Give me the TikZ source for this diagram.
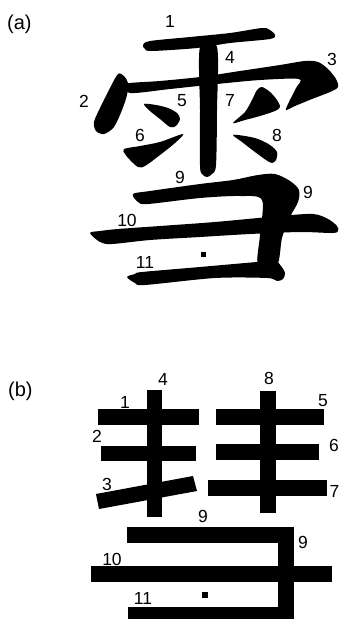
\documentclass[tikz,border=0pt]{standalone}
\usepackage{fontspec}
\setmainfont{Liberation Sans}

\begin{document}
\begin{tikzpicture}[x=1pt, y=-1pt,
    num/.style={font=\fontsize{17.5}{20}\selectfont, inner sep=0pt},
    tag/.style={font=\fontsize{20}{24}\selectfont, inner sep=0pt, anchor=base west},
    inkstroke/.style={smooth cycle, tension=0.5}]
    \useasboundingbox (0,0) rectangle (340,619);
    \clip (0,0) rectangle (340,619);

    % (a) brush-written character
    \node[tag] (taga) at (7,29) {(a)};

    % stroke 1, top horizontal
    \fill plot[inkstroke] coordinates {(143,45) (150,41) (190,37) (230,33) (262,28) (270,30)
        (275,35) (270,39) (230,43) (197,48) (152,51) (145,49)};
    % stroke 4, central vertical
    \fill plot[inkstroke] coordinates {(200,47) (217,47) (217,110) (216,165) (212,174) (207,177)
        (202,174) (200,165) (200,110)};
    % stroke 2, left hook
    \fill plot[inkstroke] coordinates {(118,74) (124,76) (128,83) (127,95) (122,110) (114,127)
        (104,134) (96,131) (94,122) (100,108) (110,88)};
    % stroke 3, beam with right hook
    \fill plot[inkstroke] coordinates {(124,84) (160,81) (200,77) (240,71) (280,65) (305,61)
        (318,62) (328,69) (336,79) (338,87) (330,92) (312,99) (295,106) (286,110) (289,102)
        (296,88) (299,79) (260,80) (217,84) (170,89) (130,93)};
    % dots 5, 6, 7, 8
    \fill plot[inkstroke] coordinates {(144,104) (156,105) (168,108) (177,113) (180,119)
        (176,126) (170,127) (160,119) (150,111)};
    \fill plot[inkstroke] coordinates {(124,149) (140,146) (160,142) (183,134) (175,143)
        (160,155) (145,166) (138,167) (130,160) (125,154)};
    \fill plot[inkstroke] coordinates {(233,123) (245,112) (252,100) (257,90) (262,87)
        (270,92) (277,100) (280,107) (275,111) (260,116) (245,120)};
    \fill plot[inkstroke] coordinates {(233,135) (245,136) (258,139) (270,145) (277,152)
        (276,160) (272,163) (266,160) (255,152) (242,142)};
    % stroke 9, upper bar turning down
    \fill plot[inkstroke] coordinates {(133,194) (150,191) (200,184) (233,180) (258,175)
        (275,174) (290,181) (299,190) (298,202) (290,217) (282,238) (277,265) (258,265)
        (260,235) (262,200) (240,196) (200,198) (148,204) (138,202)};
    % stroke 10, long middle bar
    \fill plot[inkstroke] coordinates {(90,233) (100,231) (118,229) (160,226) (215,222)
        (280,216) (313,214) (328,219) (337,226) (338,231) (332,233) (300,232) (250,234)
        (200,237) (150,240) (112,244) (100,242)};
    % stroke 11, bottom bar with foot
    \fill plot[inkstroke] coordinates {(127,277) (135,274) (142,272) (200,267) (257,262)
        (275,261) (281,266) (285,273) (283,279) (277,281) (267,278) (215,278) (145,285)
        (135,283)};
    \fill (201,252) rectangle (206,257);

    % stroke numbers (a)
    \node[num] (a1) at (170,21) {1};
    \node[num] (a4) at (230,57.5) {4};
    \node[num] (a3) at (332,59) {3};
    \node[num] (a2) at (84,101) {2};
    \node[num] (a5) at (182,101) {5};
    \node[num] (a7) at (230,100) {7};
    \node[num] (a6) at (140,135) {6};
    \node[num] (a8) at (277,135) {8};
    \node[num] (a9) at (180,177) {9};
    \node[num] (a9r) at (308,192) {9};
    \node[num] (a10) at (127,220) {10};
    \node[num] (a11) at (145,262) {11};

    % (b) the same character in straight bars
    \node[tag] (tagb) at (8,396) {(b)};

    % left part
    \foreach \xa/\ya/\xb/\yb in {98/409/199/425, 101/446/196/461, 147/390/162/517} {
        \fill (\xa,\ya) rectangle (\xb,\yb);
    }
    \fill (96,494) -- (193,476) -- (197,491) -- (99,509) -- cycle;
    % right part
    \foreach \xa/\ya/\xb/\yb in {216/409/324/425, 216/444/319/460, 208/480/327/496, 260/391/276/513} {
        \fill (\xa,\ya) rectangle (\xb,\yb);
    }
    % lower part
    \foreach \xa/\ya/\xb/\yb in {127/527/294/543, 278/527/294/623, 91/566/332/582, 128/607/294/623} {
        \fill (\xa,\ya) rectangle (\xb,\yb);
    }
    \fill (202,592) rectangle (208,598);

    % stroke numbers (b)
    \node[num] (b4) at (163,379) {4};
    \node[num] (b8) at (269,378) {8};
    \node[num] (b1) at (125,402) {1};
    \node[num] (b5) at (323,401) {5};
    \node[num] (b2) at (97,436) {2};
    \node[num] (b6) at (334,445) {6};
    \node[num] (b3) at (107,484) {3};
    \node[num] (b7) at (334.5,491) {7};
    \node[num] (b9) at (203,516) {9};
    \node[num] (b9r) at (303,542) {9};
    \node[num] (b10) at (112,559) {10};
    \node[num] (b11) at (143,598) {11};
\end{tikzpicture}
\end{document}
